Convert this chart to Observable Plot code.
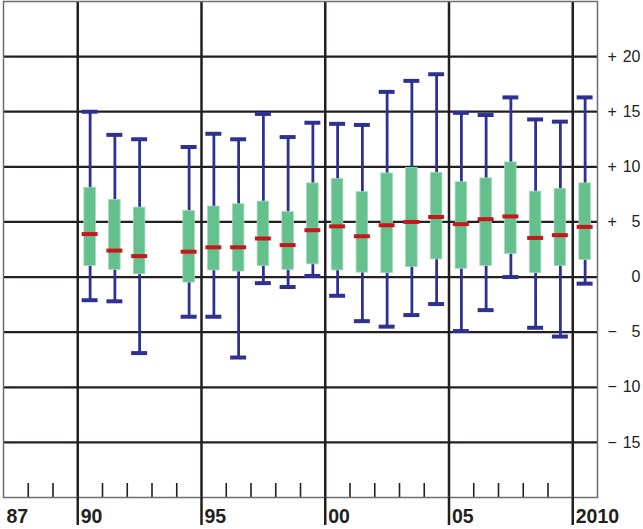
<!DOCTYPE html>
<html>
<head>
<meta charset="utf-8">
<script src="https://cdn.jsdelivr.net/npm/d3@7"></script>
<script src="https://cdn.jsdelivr.net/npm/@observablehq/plot@0.6"></script>
<style>
  html, body { margin: 0; padding: 0; background: #fff; }
  #chart svg { display: block; }
</style>
</head>
<body>
<div id="chart"></div>
<script>
// Years with a box (1993 has none)
const years  = [1990, 1991, 1992, 1994, 1995, 1996, 1997, 1998, 1999, 2000, 2001, 2002, 2003, 2004, 2005, 2006, 2007, 2008, 2009, 2010];
const high   = [15.0, 12.9, 12.5, 11.8, 13.0, 12.5, 14.8, 12.7, 14.0, 13.9, 13.8, 16.8, 17.8, 18.4, 14.9, 14.7, 16.3, 14.3, 14.1, 16.3];
const q3     = [8.1, 7.0, 6.3, 6.0, 6.4, 6.6, 6.85, 5.9, 8.5, 8.9, 7.7, 9.4, 9.9, 9.45, 8.6, 8.95, 10.4, 7.75, 8.0, 8.5];
const median = [3.9, 2.4, 1.9, 2.3, 2.7, 2.7, 3.5, 2.9, 4.25, 4.6, 3.7, 4.7, 5.0, 5.45, 4.8, 5.25, 5.5, 3.55, 3.8, 4.55];
const q1     = [1.0, 0.65, 0.25, -0.5, 0.6, 0.5, 1.0, 0.65, 1.15, 0.6, 0.4, 0.35, 0.9, 1.6, 0.75, 1.0, 2.1, 0.35, 1.0, 1.55];
const low    = [-2.1, -2.2, -6.9, -3.6, -3.6, -7.3, -0.55, -0.9, 0.1, -1.7, -4.0, -4.5, -3.45, -2.45, -4.9, -3.0, 0.0, -4.6, -5.4, -0.6];

// Axis ticks and labels
const yTicks = [-15, -10, -5, 0, 5, 10, 15, 20];
const ySigns = ["\u2212", "\u2212", "\u2212", "", "+", "+", "+", "+"];
const yNums  = ["15", "10", "5", "0", "5", "10", "15", "20"];
const majorYears = [1990, 1995, 2000, 2005, 2010];
const minorYears = [1988, 1989, 1991, 1992, 1993, 1994, 1996, 1997, 1998, 1999, 2001, 2002, 2003, 2004, 2006, 2007, 2008, 2009];
const labelYears = [1987, 1990, 1995, 2000, 2005, 2010];
const labelTexts = ["87", "90", "95", "00", "05", "2010"];

const rows = years.map((y, i) => ({year: y, high: high[i], q3: q3[i], median: median[i], q1: q1[i], low: low[i]}));

const ink = "#231f20";
const blue = "#2e3192";
const green = "#64c18d";
const red = "#c8161d";

const chart = Plot.plot({
  width: 643,
  height: 529,
  marginLeft: 3,
  marginRight: 46,
  marginTop: 1,
  marginBottom: 32,
  style: {fontFamily: "'Liberation Sans', Arial, sans-serif", background: "#fff"},
  x: {domain: [1987, 2011]},
  y: {domain: [-20, 25]},
  marks: [
    Plot.ruleY(yTicks, {stroke: ink, strokeWidth: 2.2}),
    Plot.ruleX(majorYears, {stroke: ink, strokeWidth: 2.5}),
    Plot.ruleX(minorYears, {stroke: ink, strokeWidth: 1.6, insetTop: 482}),
    Plot.frame({stroke: "#6d6e71", strokeWidth: 1.5}),
    // whiskers
    Plot.ruleX(rows, {x: d => d.year + 0.5, y1: "low", y2: "high", stroke: blue, strokeWidth: 2.8}),
    // boxes
    Plot.rect(rows, {x1: "year", x2: d => d.year + 1, y1: "q1", y2: "q3", fill: green, stroke: "#a3d9b8", strokeWidth: 0.8, insetLeft: 6.6, insetRight: 6.6}),
    // caps
    Plot.ruleY(rows, {y: "high", x1: "year", x2: d => d.year + 1, insetLeft: 4.4, insetRight: 4.4, stroke: blue, strokeWidth: 4}),
    Plot.ruleY(rows, {y: "low", x1: "year", x2: d => d.year + 1, insetLeft: 4.4, insetRight: 4.4, stroke: blue, strokeWidth: 4}),
    // medians
    Plot.ruleY(rows, {y: "median", x1: "year", x2: d => d.year + 1, insetLeft: 4.4, insetRight: 4.4, stroke: red, strokeWidth: 4}),
    // major year lines extending below frame
    Plot.axisX(majorYears, {anchor: "bottom", tickSize: 28, strokeWidth: 2.5, stroke: ink, tickFormat: () => "", label: null}),
    // bottom labels
    Plot.axisX(labelYears, {anchor: "bottom", tickSize: 0, tickPadding: 12, textAnchor: "start", dx: 3, fontSize: 19.5, fontWeight: "bold", fill: ink,
      tickFormat: d => labelTexts[labelYears.indexOf(d)], label: null}),
    // right axis numbers
    Plot.axisY(yTicks, {anchor: "right", tickSize: 0, tickPadding: 0, textAnchor: "end", dx: 43, fontSize: 16, fill: ink,
      tickFormat: d => yNums[yTicks.indexOf(d)], label: null}),
    // right axis signs
    Plot.axisY(yTicks, {anchor: "right", tickSize: 0, tickPadding: 0, textAnchor: "start", dx: 10, fontSize: 16, fill: ink,
      tickFormat: d => ySigns[yTicks.indexOf(d)], label: null})
  ]
});
document.getElementById("chart").appendChild(chart);
</script>
</body>
</html>
